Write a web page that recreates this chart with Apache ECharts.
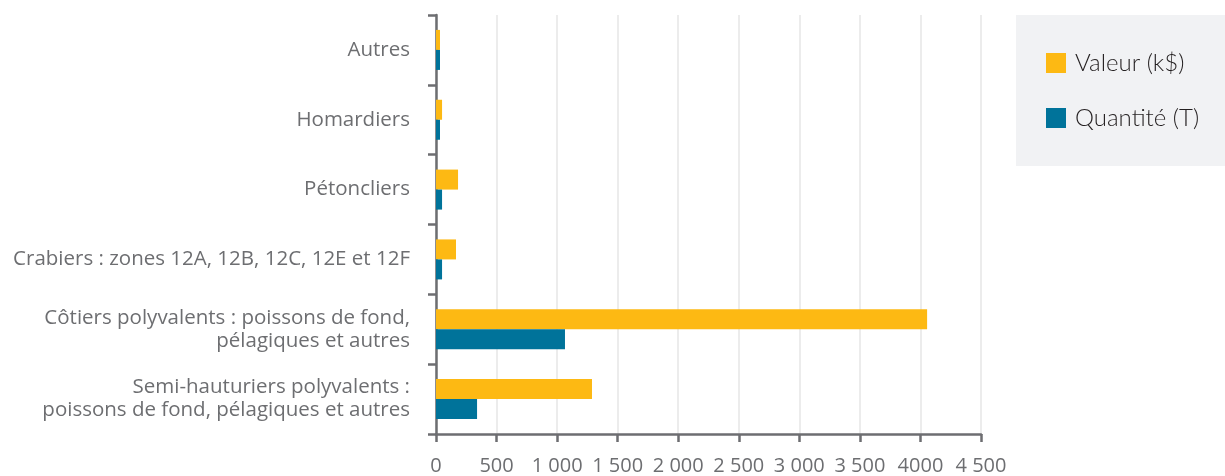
<!DOCTYPE html>
<html><head><meta charset="utf-8">
<script src="https://cdn.jsdelivr.net/npm/echarts@6/dist/echarts.min.js"></script>
<style>html,body{margin:0;padding:0;background:#fff}#c{width:1225px;height:476px}</style>
</head><body><div id="c"></div>
<script>
const categories = ['Autres', 'Homardiers', 'Pétoncliers', 'Crabiers : zones 12A, 12B, 12C, 12E et 12F',
  'Côtiers polyvalents : poissons de fond,\npélagiques et autres',
  'Semi-hauturiers polyvalents :\npoissons de fond, pélagiques et autres'];
const valeur = [33, 50, 182, 165, 4055, 1288];
const quantite = [33, 33, 50, 50, 1065, 339];
const tickLabels = ['0','500','1 000','1 500','2 000','2 500','3 000','3 500','4000','4 500'];

const chart = echarts.init(document.getElementById('c'));
const grey = '#6d6e71';
chart.setOption({
  animation: false,
  graphic: [{type:'rect', left:1016, top:15, shape:{width:209, height:151}, style:{fill:'#f1f2f4'}, z:-1}],
  legend: {
    orient:'vertical', left:1041, top:46, itemWidth:20, itemHeight:20, itemGap:31,
    icon:'rect', textStyle:{fontFamily:'Lato', fontWeight:300, fontSize:24, color:'#231f20', padding:[0,0,0,4]},
    data:['Valeur (k$)','Quantité (T)']
  },
  grid: {left:436, right:244, top:15, bottom:42},
  xAxis: {
    type:'value', min:0, max:4500, interval:500,
    axisLine:{show:true, lineStyle:{color:grey, width:2.5}},
    axisTick:{show:true, length:8, lineStyle:{color:grey, width:2.5}},
    splitLine:{show:true, lineStyle:{color:'#e6e6e6', width:1.5}},
    axisLabel:{margin:22, fontFamily:'Open Sans', fontSize:20, color:grey,
      formatter:(v)=>tickLabels[Math.round(v/500)]}
  },
  yAxis: {
    type:'category', data:categories, inverse:true,
    axisLine:{show:true, lineStyle:{color:grey, width:2.5}},
    axisTick:{show:true, length:8, lineStyle:{color:grey, width:2.5}},
    axisLabel:{margin:26, fontFamily:'Open Sans', fontSize:20.5, color:grey, lineHeight:23, align:'right'}
  },
  series: [
    {name:'Valeur (k$)', type:'bar', data:valeur, barWidth:20, barGap:'0%', itemStyle:{color:'#fdb913'}},
    {name:'Quantité (T)', type:'bar', data:quantite, barWidth:20, barGap:'0%', itemStyle:{color:'#00739a'}}
  ]
});
</script></body></html>
